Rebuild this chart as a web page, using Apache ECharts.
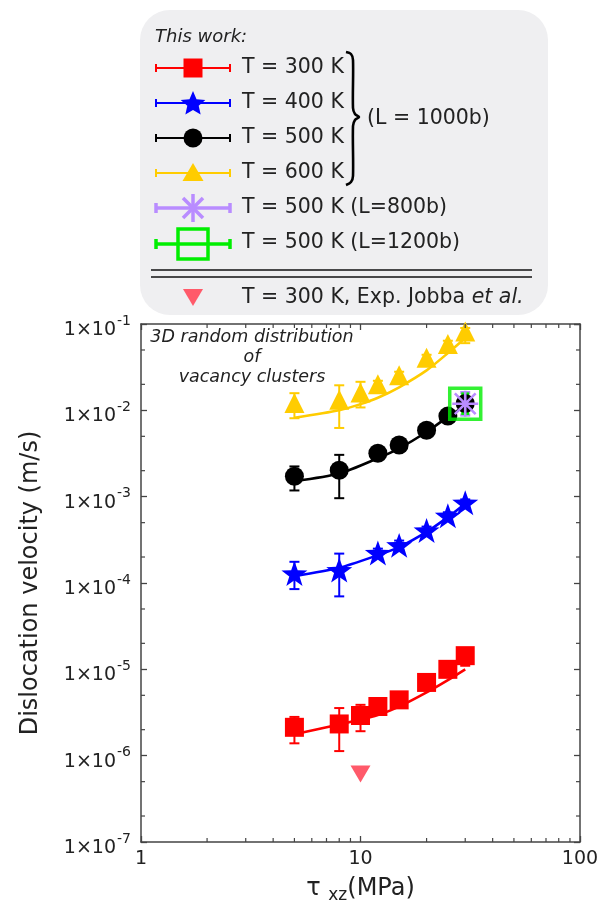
<!DOCTYPE html>
<html>
<head>
<meta charset="utf-8">
<script src="https://cdn.jsdelivr.net/npm/echarts@6/dist/echarts.min.js"></script>
<style>html,body{margin:0;padding:0;background:#fff}#c{width:607px;height:909px}</style>
</head>
<body>
<div id="c"></div>
<script>
// ---------- data ----------
const xTicks = [1, 10, 100];
const yTicks = [1e-7, 1e-6, 1e-5, 1e-4, 1e-3, 1e-2, 1e-1];
const xMinorTicks = [2, 3, 4, 5, 6, 7, 8, 9, 20, 30, 40, 50, 60, 70, 80, 90];
const yMinorTicks = [2e-7, 5e-7, 2e-6, 5e-6, 2e-5, 5e-5, 2e-4, 5e-4, 2e-3, 5e-3, 2e-2, 5e-2];

// T = 300 K
const x300 = [5, 8, 10, 12, 15, 20, 25, 30];
const v300 = [2.13e-6, 2.33e-6, 2.92e-6, 3.71e-6, 4.43e-6, 7.05e-6, 1.0e-5, 1.44e-5];
const lo300 = [1.39e-6, 1.13e-6, 1.92e-6, 3.3e-6, 4.0e-6, 6.4e-6, 9.2e-6, 1.1e-5];
const hi300 = [2.81e-6, 3.56e-6, 3.88e-6, 4.1e-6, 4.9e-6, 7.7e-6, 1.1e-5, 1.6e-5];
const fit300 = [1.77e-6, 2.3e-6, 2.6e-6, 2.95e-6, 3.7e-6, 5.4e-6, 7.5e-6, 1.0e-5];

// T = 400 K
const x400 = [5, 8, 12, 15, 20, 25, 30];
const v400 = [1.29e-4, 1.41e-4, 2.23e-4, 2.73e-4, 4.05e-4, 6.0e-4, 8.5e-4];
const lo400 = [8.5e-5, 7.0e-5, 1.95e-4, 2.4e-4, 3.6e-4, 5.4e-4, 7.7e-4];
const hi400 = [1.76e-4, 2.19e-4, 2.5e-4, 3.1e-4, 4.5e-4, 6.6e-4, 9.3e-4];
const fit400 = [1.2e-4, 1.5e-4, 2.1e-4, 2.6e-4, 3.9e-4, 5.8e-4, 8.3e-4];

// T = 500 K
const x500 = [5, 8, 12, 15, 20, 25, 30];
const v500 = [1.72e-3, 2.02e-3, 3.18e-3, 3.96e-3, 5.88e-3, 8.57e-3, 1.2e-2];
const lo500 = [1.18e-3, 9.6e-4, 2.9e-3, 3.3e-3, 5.4e-3, 7.9e-3, 1.1e-2];
const hi500 = [2.24e-3, 3.05e-3, 3.5e-3, 4.5e-3, 6.4e-3, 9.3e-3, 1.3e-2];
const fit500 = [1.51e-3, 1.85e-3, 2.79e-3, 3.63e-3, 5.61e-3, 8.4e-3, 1.13e-2];

// T = 600 K
const x600 = [5, 8, 10, 12, 15, 20, 25, 30];
const v600 = [1.22e-2, 1.33e-2, 1.61e-2, 2.01e-2, 2.55e-2, 4.06e-2, 5.86e-2, 8.16e-2];
const lo600 = [8.1e-3, 6.25e-3, 1.08e-2, 1.8e-2, 2.3e-2, 3.7e-2, 5.3e-2, 6.0e-2];
const hi600 = [1.58e-2, 1.95e-2, 2.14e-2, 2.2e-2, 2.8e-2, 4.4e-2, 6.4e-2, 9.0e-2];
const fit600 = [8.2e-3, 1.0e-2, 1.18e-2, 1.4e-2, 1.85e-2, 2.9e-2, 4.6e-2, 6.9e-2];

// T = 500 K, L = 800b and L = 1200b
const x800 = [30];  const v800 = [1.19e-2];  const lo800 = [8.8e-3];  const hi800 = [1.61e-2];
const x1200 = [30]; const v1200 = [1.19e-2]; const lo1200 = [9.2e-3]; const hi1200 = [1.55e-2];

// Experiment, Jobba et al.
const xExp = [10]; const vExp = [6.15e-7];

// ---------- styles ----------
const FONT = 'DejaVu Sans';
const C300 = '#ff0000', C400 = '#0000ff', C500 = '#000000', C600 = '#ffcc00';
const C800 = '#b98cff', C1200 = '#00ee00', CEXP = '#ff5a6a';
const AX = '#444';

const STAR = 'path://M50,0 L62,34 L98,35 L69,57 L80,92 L50,71 L20,92 L31,57 L2,35 L38,34 Z';
const ASTER = 'path://M9,0 H11 V20 H9 Z M0,9 H20 V11 H0 Z M1.3,2.7 L2.7,1.3 L18.7,17.3 L17.3,18.7 Z M17.3,1.3 L18.7,2.7 L2.7,18.7 L1.3,17.3 Z';

const zip = (xs, ys) => xs.map((x, i) => [x, ys[i]]);
const zip3 = (xs, a, b) => xs.map((x, i) => [x, a[i], b[i]]);

function fitLine(xs, ys, color) {
  return { type: 'line', data: zip(xs, ys), smooth: 0.25, showSymbol: false, symbol: 'none',
    lineStyle: { color, width: 2.6 }, z: 2, silent: true, animation: false };
}
function errBars(xs, lo, hi, color, w, cap) {
  return { type: 'custom', data: zip3(xs, lo, hi), encode: { x: 0, y: [1, 2] }, z: 3, clip: false,
    animation: false, silent: true,
    renderItem(params, api) {
      const x = api.value(0), l = api.value(1), h = api.value(2);
      const a = api.coord([x, h]), b = api.coord([x, l]);
      const st = { stroke: color, lineWidth: w };
      return { type: 'group', children: [
        { type: 'line', shape: { x1: a[0], y1: a[1], x2: b[0], y2: b[1] }, style: st },
        { type: 'line', shape: { x1: a[0] - cap, y1: a[1], x2: a[0] + cap, y2: a[1] }, style: st },
        { type: 'line', shape: { x1: b[0] - cap, y1: b[1], x2: b[0] + cap, y2: b[1] }, style: st }
      ] };
    } };
}
function marks(xs, ys, symbol, size, color, z, extra) {
  return Object.assign({ type: 'scatter', data: zip(xs, ys), symbol, symbolSize: size, symbolKeepAspect: true,
    itemStyle: { color, opacity: 1 }, z, animation: false, silent: true }, extra || {});
}

// minor ticks on all four sides
const minorData = xMinorTicks.map(v => [v, 1e-3, 0]).concat(yMinorTicks.map(v => [3, v, 1]));
const minorSeries = { type: 'custom', data: minorData, encode: { x: 0, y: 1 }, clip: false, z: 10,
  animation: false, silent: true,
  renderItem(params, api) {
    const cs = params.coordSys;
    const kind = api.value(2);
    const p = api.coord([api.value(0), api.value(1)]);
    const st = { stroke: AX, lineWidth: 1.2 };
    const L = 4;
    if (kind === 0) {
      return { type: 'group', children: [
        { type: 'line', shape: { x1: p[0], y1: cs.y + cs.height, x2: p[0], y2: cs.y + cs.height - L }, style: st },
        { type: 'line', shape: { x1: p[0], y1: cs.y, x2: p[0], y2: cs.y + L }, style: st }] };
    }
    return { type: 'group', children: [
      { type: 'line', shape: { x1: cs.x, y1: p[1], x2: cs.x + L, y2: p[1] }, style: st },
      { type: 'line', shape: { x1: cs.x + cs.width, y1: p[1], x2: cs.x + cs.width - L, y2: p[1] }, style: st }] };
  } };

// ---------- legend (drawn as graphics) ----------
function starPts(cx, cy, R, r) {
  const pts = [];
  for (let i = 0; i < 10; i++) {
    const ang = -Math.PI / 2 + i * Math.PI / 5;
    const rad = i % 2 === 0 ? R : r;
    pts.push([cx + rad * Math.cos(ang), cy + rad * Math.sin(ang)]);
  }
  return pts;
}
const LX1 = 156, LX2 = 230, MX = 193, TX = 242;
function legLine(y, color, w, capH) {
  const st = { stroke: color, lineWidth: w };
  return [
    { type: 'line', shape: { x1: LX1, y1: y, x2: LX2, y2: y }, style: st },
    { type: 'line', shape: { x1: LX1, y1: y - capH, x2: LX1, y2: y + capH }, style: st },
    { type: 'line', shape: { x1: LX2, y1: y - capH, x2: LX2, y2: y + capH }, style: st }
  ];
}
function legText(y, text, x) {
  return { type: 'text', x: x || TX, y, style: { text, font: '20.5px "DejaVu Sans"', fill: '#222',
    verticalAlign: 'middle', align: 'left' } };
}
const legend = [
  { type: 'rect', shape: { x: 140, y: 10, width: 408, height: 305, r: 30 }, style: { fill: '#efeff1' }, z: 0 },
  { type: 'text', x: 155, y: 37, style: { text: 'This work:', font: 'italic 18px "DejaVu Sans"', fill: '#222', verticalAlign: 'middle' } },
  ...legLine(68, C300, 2, 4),
  { type: 'rect', shape: { x: MX - 9.5, y: 68 - 9.5, width: 19, height: 19 }, style: { fill: C300 } },
  legText(68, 'T = 300 K'),
  ...legLine(103, C400, 2, 4),
  { type: 'polygon', shape: { points: starPts(MX, 104, 13, 6) }, style: { fill: C400 } },
  legText(103, 'T = 400 K'),
  ...legLine(138, C500, 2, 4),
  { type: 'circle', shape: { cx: MX, cy: 138, r: 9.5 }, style: { fill: C500 } },
  legText(138, 'T = 500 K'),
  ...legLine(173, C600, 2, 4),
  { type: 'polygon', shape: { points: [[MX, 163], [MX + 10.5, 181], [MX - 10.5, 181]] }, style: { fill: C600 } },
  legText(173, 'T = 600 K'),
  ...legLine(208, C800, 3.5, 5),
  { type: 'line', shape: { x1: MX, y1: 194, x2: MX, y2: 222 }, style: { stroke: C800, lineWidth: 3.5 } },
  { type: 'line', shape: { x1: MX - 10, y1: 198, x2: MX + 10, y2: 218 }, style: { stroke: C800, lineWidth: 3.5 } },
  { type: 'line', shape: { x1: MX + 10, y1: 198, x2: MX - 10, y2: 218 }, style: { stroke: C800, lineWidth: 3.5 } },
  legText(208, 'T = 500 K (L=800b)'),
  ...legLine(244, C1200, 3.5, 5),
  { type: 'rect', shape: { x: MX - 15, y: 229, width: 30, height: 30 }, style: { fill: 'none', stroke: C1200, lineWidth: 3.5 } },
  legText(243, 'T = 500 K (L=1200b)'),
  { type: 'polyline', shape: { points: [[346, 52], [351, 54], [353, 60], [353, 108], [355, 114], [359, 117], [355, 120], [353, 126], [353, 176], [351, 182], [346, 185]], smooth: 0.3 },
    style: { stroke: '#000', lineWidth: 2.6, fill: 'none' } },
  legText(119, '(L = 1000b)', 367),
  { type: 'line', shape: { x1: 151, y1: 270, x2: 532, y2: 270 }, style: { stroke: '#111', lineWidth: 1.6 } },
  { type: 'line', shape: { x1: 151, y1: 277, x2: 532, y2: 277 }, style: { stroke: '#111', lineWidth: 1.6 } },
  { type: 'polygon', shape: { points: [[MX - 10, 289], [MX + 10, 289], [MX, 306]] }, style: { fill: CEXP } },
  { type: 'text', x: TX, y: 298, style: { text: 'T = 300 K, Exp. Jobba {i|et al.}', font: '20.5px "DejaVu Sans"', fill: '#222', verticalAlign: 'middle',
      rich: { i: { fontStyle: 'italic', fontSize: 20.5, fontFamily: FONT, fill: '#222' } } } },
  { type: 'text', x: 252, y: 327, style: { text: '3D random distribution\nof\nvacancy clusters', font: 'italic 17.5px "DejaVu Sans"', fill: '#222',
      align: 'center', verticalAlign: 'top', lineHeight: 20 } }
];

// ---------- chart ----------
const chart = echarts.init(document.getElementById('c'), null, { renderer: 'canvas' });
const axLine = { show: true, lineStyle: { color: AX, width: 1.5 } };
const axTick = { show: true, inside: true, length: 6, lineStyle: { color: AX, width: 1.3 } };
const option = {
  backgroundColor: '#ffffff',
  animation: false,
  textStyle: { fontFamily: FONT },
  grid: { left: 141, top: 324, width: 439, height: 525, containLabel: false },
  xAxis: [
    { type: 'log', logBase: 10, min: xTicks[0], max: xTicks[xTicks.length - 1], splitNumber: 2, position: 'bottom',
      axisLine: axLine, axisTick: axTick, splitLine: { show: false },
      axisLabel: { fontSize: 19, color: '#222', margin: 8, fontFamily: FONT },
      name: 'τ {sub|xz}(MPa)', nameLocation: 'middle', nameGap: 32,
      nameTextStyle: { fontSize: 24, color: '#222', fontFamily: FONT, lineHeight: 30, verticalAlign: 'top',
        rich: { sub: { fontSize: 17, fontFamily: FONT, color: '#222', lineHeight: 18, verticalAlign: 'bottom', padding: [6, 0, 0, 0] } } } },
    { type: 'log', logBase: 10, min: xTicks[0], max: xTicks[xTicks.length - 1], splitNumber: 2, position: 'top',
      axisLine: axLine, axisTick: axTick, splitLine: { show: false }, axisLabel: { show: false } }
  ],
  yAxis: [
    { type: 'log', logBase: 10, min: yTicks[0], max: yTicks[yTicks.length - 1], splitNumber: 6, position: 'left',
      axisLine: axLine, axisTick: axTick, splitLine: { show: false },
      axisLabel: { margin: 10, color: '#222',
        formatter: v => '{m|1×10}{s|' + Math.round(Math.log10(v)) + '}',
        rich: { m: { fontSize: 19, fontFamily: FONT, color: '#222', lineHeight: 20, padding: [12, 0, 0, 0], verticalAlign: 'middle' },
                s: { fontSize: 14, fontFamily: FONT, color: '#222', lineHeight: 15, padding: [0, 0, 6, 1], verticalAlign: 'middle' } } },
      name: 'Dislocation velocity (m/s)', nameLocation: 'middle', nameGap: 98,
      nameTextStyle: { fontSize: 24, color: '#222', fontFamily: FONT } },
    { type: 'log', logBase: 10, min: yTicks[0], max: yTicks[yTicks.length - 1], splitNumber: 6, position: 'right',
      axisLine: axLine, axisTick: axTick, splitLine: { show: false }, axisLabel: { show: false } }
  ],
  series: [
    minorSeries,
    fitLine(x300, fit300, C300),
    fitLine(x400, fit400, C400),
    fitLine(x500, fit500, C500),
    fitLine(x600, fit600, C600),
    errBars(x300, lo300, hi300, C300, 2, 5),
    errBars(x400, lo400, hi400, C400, 2, 5),
    errBars(x500, lo500, hi500, C500, 2, 5),
    errBars(x600, lo600, hi600, C600, 2, 5),
    marks(x300, v300, 'rect', 19, C300, 4),
    marks(x400, v400, STAR, 26, C400, 4),
    marks(x500, v500, 'circle', 19, C500, 4),
    marks(x600, v600, 'triangle', 20, C600, 4),
    errBars(x800, lo800, hi800, C800, 3, 5),
    marks(x800, v800, ASTER, 26, C800, 6),
    errBars(x1200, lo1200, hi1200, C1200, 3, 4),
    marks(x1200, v1200, 'rect', 31, 'rgba(0,0,0,0)', 7, { itemStyle: { color: 'rgba(0,0,0,0)', borderColor: C1200, borderWidth: 3.5 } }),
    marks(xExp, vExp, 'path://M0,0 L20,0 L10,17 Z', 20, CEXP, 5)
  ],
  graphic: { elements: legend }
};
chart.setOption(option);
</script>
</body>
</html>
